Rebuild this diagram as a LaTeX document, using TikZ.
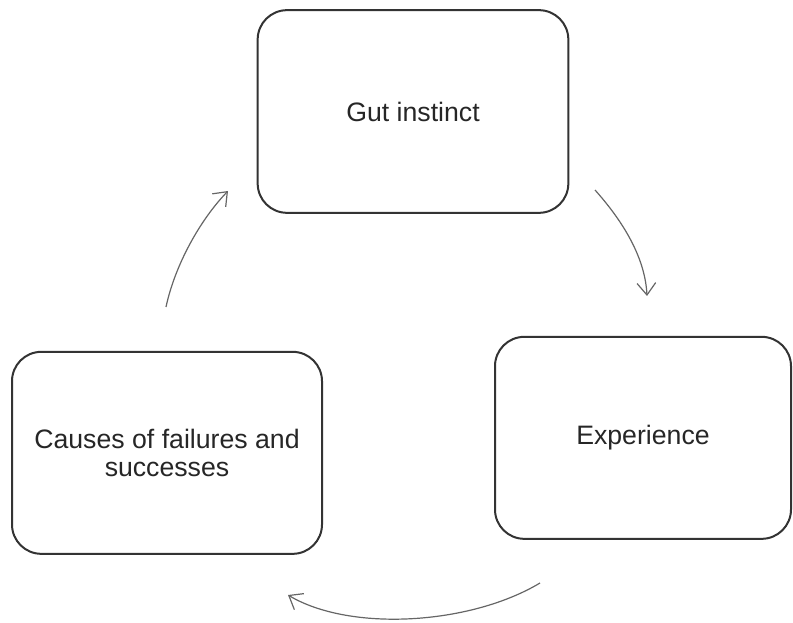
\documentclass[tikz,border=0pt]{standalone}
\usepackage{fontspec}
\setmainfont{Liberation Sans}
\usetikzlibrary{arrows.meta,positioning}
\definecolor{edge}{HTML}{333333}
\definecolor{ink}{HTML}{262626}

\begin{document}
\begin{tikzpicture}[x=0.75pt, y=-0.75pt,
      box/.style={draw=edge, line width=1.5pt, rounded corners=22pt,
                  align=center, inner sep=0pt, text=ink,
                  font=\fontsize{20}{21.5}\selectfont},
      arr/.style={-{Straight Barb[length=9pt,width=14pt]},
                  line width=0.9pt, draw=black!60}]
    \useasboundingbox (0,0) rectangle (793,623);
    \node[box, minimum width=233pt, minimum height=152pt] (gut) at (413,111.5) {Gut instinct};
    \node[box, minimum width=222pt, minimum height=151.5pt,
          below=91.5pt of gut, xshift=172.5pt] (exp) {Experience};
    \node[box, minimum width=232.5pt, minimum height=151.5pt,
          below=102.75pt of gut, xshift=-184.5pt] (cause) {Causes of failures and\\successes};
    % free ends of the cycle arrows
    \coordinate (gut-out) at (595,190);
    \coordinate (exp-in) at (647,296);
    \coordinate (exp-out) at (540,583);
    \coordinate (cause-in) at (288,595);
    \coordinate (cause-out) at (166,307);
    \coordinate (gut-in) at (228,191);
    \draw[arr] (gut-out) .. controls (620,218) and (645,255) .. (exp-in);
    \draw[arr] (exp-out) .. controls (470,625) and (350,632) .. (cause-in);
    \draw[arr] (cause-out) .. controls (175,265) and (200,220) .. (gut-in);
  \end{tikzpicture}
\end{document}
